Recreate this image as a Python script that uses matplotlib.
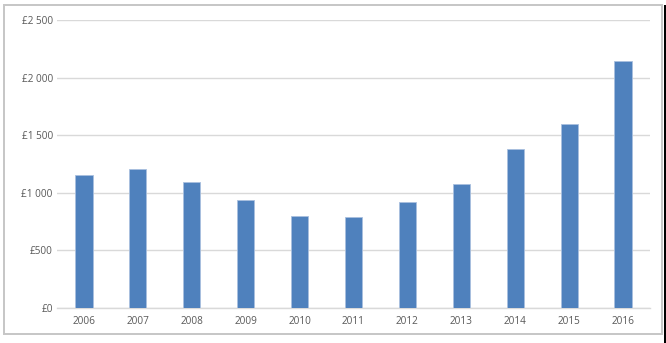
import matplotlib
matplotlib.use("Agg")
import matplotlib.pyplot as plt
from matplotlib.patches import Rectangle

years = ["2006", "2007", "2008", "2009", "2010", "2011", "2012", "2013", "2014", "2015", "2016"]
values = [1150, 1205, 1090, 940, 800, 785, 922, 1072, 1375, 1600, 2140]
yticks = [0, 500, 1000, 1500, 2000, 2500]
ytick_labels = ["£0", "£500", "£1 000", "£1 500", "£2 000", "£2 500"]

W, H = 666, 343
fig = plt.figure(figsize=(W / 100, H / 100), dpi=100)
fig.patch.set_facecolor("white")

# outer chart frame
fig.patches.append(Rectangle((3.5 / W, 1 - 333.5 / H), (662 - 3.5) / W, (333.5 - 4.5) / H,
                             transform=fig.transFigure, fill=False,
                             edgecolor="#C6C6C6", linewidth=1.4, zorder=0))
fig.patches.append(Rectangle((663.5 / W, 0), 3 / W, 1 - 5 / H,
                             transform=fig.transFigure, facecolor="black",
                             edgecolor="none", zorder=0))

left, right, top, bottom = 57, 650, 20, 307.7
ax = fig.add_axes([left / W, 1 - bottom / H, (right - left) / W, (bottom - top) / H])
x = list(range(len(years)))
ax.bar(x, values, width=0.32, color="#4F81BD", edgecolor="#A9C0DF", linewidth=0.6, zorder=3)
ax.set_xlim(-0.5, len(years) - 0.5)
ax.set_ylim(0, 2500)
ax.set_yticks(yticks)
ax.set_yticklabels(ytick_labels)
ax.set_xticks(x)
ax.set_xticklabels(years)
ax.grid(axis="y", color="#D9D9D9", linewidth=1.0, zorder=0)
ax.set_axisbelow(True)
for s in ["left", "right", "top"]:
    ax.spines[s].set_visible(False)
ax.spines["bottom"].set_color("#D9D9D9")
ax.spines["bottom"].set_linewidth(1.0)
ax.tick_params(axis="both", length=0, colors="#595959", labelsize=7.2)
ax.tick_params(axis="y", pad=3)
ax.tick_params(axis="x", pad=6)
for lab in ax.get_xticklabels() + ax.get_yticklabels():
    lab.set_fontfamily("Open Sans")

fig.savefig("out.png", dpi=100)
